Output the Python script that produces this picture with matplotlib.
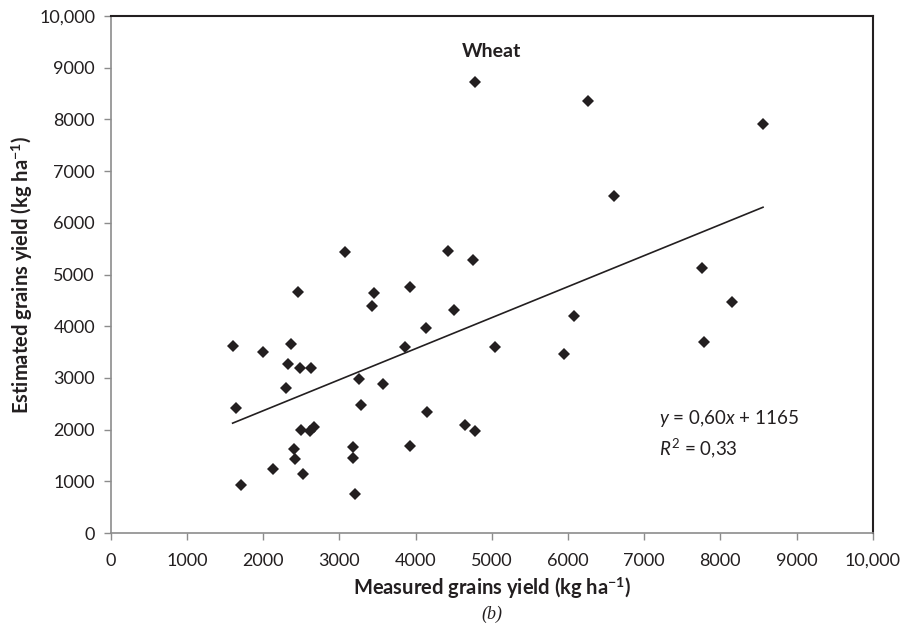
import matplotlib
matplotlib.use('Agg')
import matplotlib.pyplot as plt
import numpy as np

plt.rcParams['font.family'] = ['Lato', 'DejaVu Sans']
plt.rcParams['mathtext.fontset'] = 'custom'
plt.rcParams['mathtext.rm'] = 'Lato'
plt.rcParams['mathtext.it'] = 'Lato:italic'
plt.rcParams['mathtext.bf'] = 'Lato:bold'

# measured vs estimated grain yield (kg/ha)
measured = [1600, 2000, 2370, 2330, 2490, 2630, 2300, 1640, 3260, 3570,
            3290, 2500, 2620, 2670, 2410, 2420, 2130, 2520, 1710, 3180,
            3180, 3210, 3430, 4420, 4750, 3930, 4500, 4140, 3860, 5040,
            6080, 5950, 4150, 4650, 4780, 3930, 6260, 8560, 6610, 7760,
            8150, 4780, 3080, 2460, 3450, 7780]
estimated = [3620, 3510, 3650, 3270, 3200, 3190, 2810, 2420, 2980, 2880,
             2480, 2000, 1970, 2060, 1630, 1430, 1240, 1140, 930, 1670,
             1450, 760, 4390, 5460, 5280, 4760, 4320, 3960, 3600, 3600,
             4190, 3460, 2340, 2080, 1970, 1680, 8360, 7910, 6520, 5130,
             4470, 8720, 5440, 4670, 4640, 3690]

slope = 0.60
intercept = 1165
r2 = 0.33

ticks = list(range(0, 10001, 1000))
tick_labels = ['0', '1000', '2000', '3000', '4000', '5000', '6000', '7000',
               '8000', '9000', '10,000']

fig = plt.figure(figsize=(9.06, 6.32), dpi=100)
ax = fig.add_axes([0.1222, 0.1566, 0.8411, 0.8181])

ax.plot(measured, estimated, 'D', color='#231f20', markersize=6, markeredgewidth=0)

# trend line over the range of measured values
xs = np.array([min(measured), max(measured)])
ax.plot(xs, slope * xs + intercept, color='#231f20', linewidth=1.2)

ax.set_xlim(0, 10000)
ax.set_ylim(0, 10000)
ax.set_xticks(ticks)
ax.set_xticklabels(tick_labels)
ax.set_yticks(ticks)
ax.set_yticklabels(tick_labels)
ax.tick_params(axis='both', direction='out', length=5.3, width=1, color='#8c8c8c',
               labelsize=13, labelcolor='#231f20')
ax.tick_params(axis='x', pad=9)
ax.tick_params(axis='y', pad=6)

for s in ['left', 'bottom']:
    ax.spines[s].set_color('#8c8c8c')
    ax.spines[s].set_linewidth(1.2)
for s in ['top', 'right']:
    ax.spines[s].set_color('#231f20')
    ax.spines[s].set_linewidth(1.5)

ax.set_xlabel(r'Measured grains yield (kg ha$^{\mathbf{-1}}$)', fontsize=14.5,
              fontweight='bold', color='#231f20')
ax.xaxis.set_label_coords(0.5, -0.106)
ax.xaxis.label.set_va('center')
ax.set_ylabel(r'Estimated grains yield (kg ha$^{\mathbf{-1}}$)', fontsize=14.5,
              fontweight='bold', color='#231f20')
ax.yaxis.set_label_coords(-0.116, 0.5)
ax.yaxis.label.set_va('center')

ax.text(0.5, 0.932, 'Wheat', transform=ax.transAxes, ha='center', va='center',
        fontsize=14, fontweight='bold', color='#231f20')

ax.text(0.719, 0.222, r'$\it{y}$ = %s$\it{x}$ + %d' % (f'{slope:.2f}'.replace('.', ','), intercept),
        transform=ax.transAxes, ha='left', va='center', fontsize=13.5, color='#231f20')
ax.text(0.719, 0.164, r'$\it{R}^2$ = %s' % f'{r2:.2f}'.replace('.', ','),
        transform=ax.transAxes, ha='left', va='center', fontsize=13.5, color='#231f20')

fig.text(0.543, 1 - 614 / 632, '(b)', ha='center', va='center', fontsize=13,
         fontstyle='italic', family='Liberation Serif', color='#231f20')

fig.savefig('out.png', dpi=100)
